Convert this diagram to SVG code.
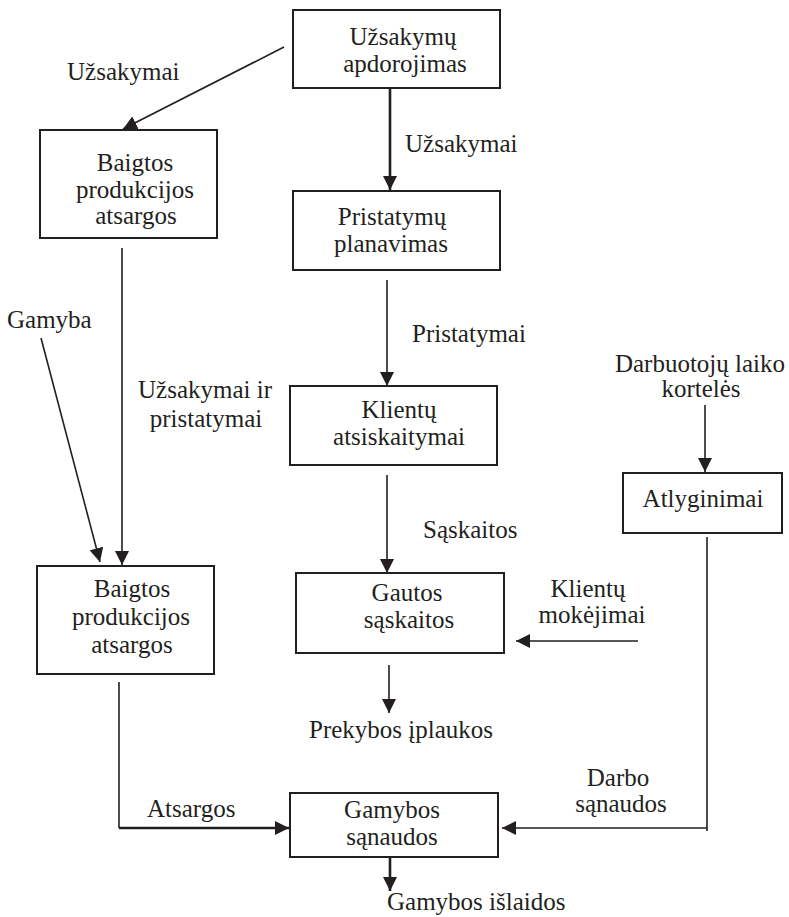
<svg xmlns="http://www.w3.org/2000/svg" width="789" height="917" viewBox="0 0 789 917">
  <style>
    text { font-family: 'Liberation Serif', 'DejaVu Serif', serif; font-size: 25px; fill: #231f20; }
    .c { text-anchor: middle; }
    .box { fill: #ffffff; stroke: #231f20; stroke-width: 2; }
    .ln { fill: none; stroke: #231f20; stroke-width: 1.6; }
    .thick { stroke-width: 2.6; }
  </style>
  <defs>
    <marker id="arrow" markerUnits="userSpaceOnUse" markerWidth="16" markerHeight="14" refX="14" refY="7" orient="auto">
      <path d="M0,0 L14,7 L0,14 Z" fill="#231f20"/>
    </marker>
  </defs>
  <rect width="789" height="917" fill="#ffffff"/>

  <!-- connectors -->
  <g id="connectors">
    <line class="ln thick" x1="390" y1="88" x2="390" y2="190" marker-end="url(#arrow)"/>
    <line class="ln" x1="284" y1="47" x2="123" y2="129" marker-end="url(#arrow)"/>
    <line class="ln" x1="122" y1="248" x2="122" y2="565" marker-end="url(#arrow)"/>
    <line class="ln" x1="41" y1="338" x2="100" y2="562" marker-end="url(#arrow)"/>
    <line class="ln" x1="387" y1="280" x2="387" y2="386" marker-end="url(#arrow)"/>
    <line class="ln" x1="387" y1="475" x2="387" y2="573" marker-end="url(#arrow)"/>
    <line class="ln" x1="389" y1="665" x2="389" y2="713" marker-end="url(#arrow)"/>
    <line class="ln" x1="705" y1="405" x2="705" y2="472" marker-end="url(#arrow)"/>
    <line class="ln" x1="638" y1="641" x2="516" y2="641" marker-end="url(#arrow)"/>
    <polyline class="ln" points="119,682 119,828"/>
    <line class="ln thick" x1="119" y1="828" x2="289" y2="828" marker-end="url(#arrow)"/>
    <polyline class="ln" points="707,537 707,831"/>
    <line class="ln" x1="707" y1="828" x2="502" y2="828" marker-end="url(#arrow)"/>
    <line class="ln thick" x1="390" y1="857" x2="390" y2="891" marker-end="url(#arrow)"/>
  </g>

  <!-- connector labels -->
  <g id="labels" font-family="Liberation Serif, DejaVu Serif, serif">
    <text x="67" y="80">Užsakymai</text>
    <text x="405" y="152">Užsakymai</text>
    <text x="7" y="328">Gamyba</text>
    <text class="c" x="205" y="398">Užsakymai ir</text>
    <text class="c" x="206" y="427">pristatymai</text>
    <text x="412" y="342">Pristatymai</text>
    <text x="423" y="538">Sąskaitos</text>
    <text class="c" x="700" y="372">Darbuotojų laiko</text>
    <text class="c" x="701" y="397">kortelės</text>
    <text class="c" x="588" y="597">Klientų</text>
    <text class="c" x="592" y="623">mokėjimai</text>
    <text x="309" y="738">Prekybos įplaukos</text>
    <text x="147" y="817">Atsargos</text>
    <text class="c" x="618" y="786">Darbo</text>
    <text class="c" x="621" y="812">sąnaudos</text>
    <text x="387" y="910">Gamybos išlaidos</text>
  </g>

  <!-- nodes -->
  <g id="uzsakymu-apdorojimas">
    <rect class="box" x="293" y="10" width="207" height="78"/>
    <text class="c" x="403" y="45">Užsakymų</text>
    <text class="c" x="405" y="72">apdorojimas</text>
  </g>
  <g id="baigtos-produkcijos-1">
    <rect class="box" x="40" y="130" width="177" height="108"/>
    <text class="c" x="135" y="171">Baigtos</text>
    <text class="c" x="135" y="198">produkcijos</text>
    <text class="c" x="136" y="224">atsargos</text>
  </g>
  <g id="pristatymu-planavimas">
    <rect class="box" x="293" y="191" width="207" height="79"/>
    <text class="c" x="392" y="225">Pristatymų</text>
    <text class="c" x="391" y="252">planavimas</text>
  </g>
  <g id="klientu-atsiskaitymai">
    <rect class="box" x="290" y="386" width="207" height="79"/>
    <text class="c" x="399" y="418">Klientų</text>
    <text class="c" x="399" y="445">atsiskaitymai</text>
  </g>
  <g id="atlyginimai">
    <rect class="box" x="623" y="473" width="159" height="60"/>
    <text class="c" x="703" y="507">Atlyginimai</text>
  </g>
  <g id="baigtos-produkcijos-2">
    <rect class="box" x="37" y="566" width="177" height="108"/>
    <text class="c" x="132" y="597">Baigtos</text>
    <text class="c" x="131" y="625">produkcijos</text>
    <text class="c" x="132" y="653">atsargos</text>
  </g>
  <g id="gautos-saskaitos">
    <rect class="box" x="296" y="573" width="208" height="80"/>
    <text class="c" x="407" y="601">Gautos</text>
    <text class="c" x="409" y="628">sąskaitos</text>
  </g>
  <g id="gamybos-sanaudos">
    <rect class="box" x="290" y="793" width="208" height="64"/>
    <text class="c" x="392" y="818">Gamybos</text>
    <text class="c" x="392" y="845">sąnaudos</text>
  </g>
</svg>
